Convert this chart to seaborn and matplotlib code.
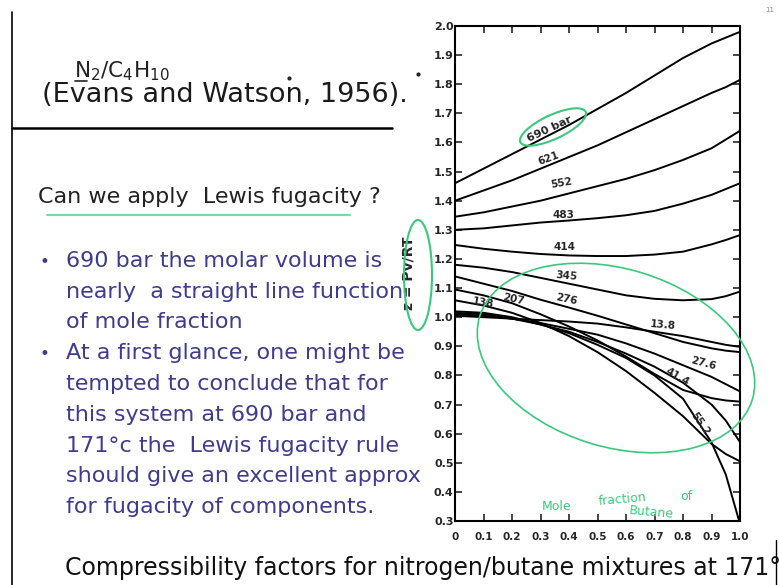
import numpy as np
import pandas as pd
import matplotlib
matplotlib.use("Agg")
import matplotlib.pyplot as plt
from matplotlib.patches import Ellipse
import seaborn as sns

# --- datos (Evans and Watson, 1956) ---
x_butano = [0, 0.1, 0.2, 0.3, 0.4, 0.5, 0.6, 0.7, 0.8, 0.9, 0.95, 1.0]

z_690 = [1.46, 1.51, 1.56, 1.61, 1.66, 1.715, 1.77, 1.83, 1.89, 1.94, 1.96, 1.98]
z_621 = [1.40, 1.435, 1.47, 1.51, 1.55, 1.59, 1.635, 1.68, 1.725, 1.77, 1.79, 1.815]
z_552 = [1.345, 1.36, 1.38, 1.40, 1.425, 1.45, 1.475, 1.505, 1.54, 1.58, 1.61, 1.64]
z_483 = [1.30, 1.305, 1.315, 1.325, 1.332, 1.34, 1.35, 1.365, 1.39, 1.42, 1.44, 1.46]
z_414 = [1.248, 1.235, 1.225, 1.217, 1.212, 1.21, 1.21, 1.215, 1.225, 1.25, 1.265, 1.282]
z_345 = [1.18, 1.17, 1.155, 1.135, 1.115, 1.095, 1.075, 1.063, 1.058, 1.062, 1.072, 1.088]
z_276 = [1.14, 1.115, 1.09, 1.06, 1.033, 1.005, 0.975, 0.945, 0.915, 0.893, 0.885, 0.88]
z_207 = [1.095, 1.075, 1.048, 1.01, 0.968, 0.92, 0.865, 0.805, 0.75, 0.722, 0.714, 0.71]
z_138 = [1.058, 1.04, 1.015, 0.98, 0.935, 0.88, 0.815, 0.74, 0.66, 0.565, 0.53, 0.505]
z_552b = [1.02, 1.015, 1.0, 0.975, 0.945, 0.905, 0.86, 0.80, 0.72, 0.57, 0.46, 0.29]
z_414b = [1.015, 1.01, 0.995, 0.975, 0.95, 0.915, 0.875, 0.83, 0.775, 0.70, 0.645, 0.571]
z_276b = [1.01, 1.005, 0.995, 0.98, 0.96, 0.94, 0.91, 0.875, 0.835, 0.795, 0.77, 0.745]
z_138b = [1.005, 1.0, 0.995, 0.99, 0.985, 0.978, 0.965, 0.95, 0.935, 0.915, 0.905, 0.898]

presiones = ["690", "621", "552", "483", "414", "345", "276", "207", "138",
             "55.2", "41.4", "27.6", "13.8"]
curvas = [z_690, z_621, z_552, z_483, z_414, z_345, z_276, z_207, z_138,
          z_552b, z_414b, z_276b, z_138b]

# etiquetas de las curvas: texto, x, z, rotacion
etiquetas = ["690 bar", "621", "552", "483", "414", "345", "276", "207", "138",
             "13.8", "27.6", "41.4", "55.2"]
etq_x = [0.33, 0.33, 0.375, 0.38, 0.385, 0.39, 0.39, 0.205, 0.10, 0.73, 0.87, 0.78, 0.86]
etq_z = [1.645, 1.545, 1.46, 1.352, 1.24, 1.142, 1.062, 1.062, 1.05, 0.972, 0.842, 0.795, 0.635]
etq_rot = [25, 20, 10, 0, 0, -5, -12, -12, -10, -5, -15, -30, -55]

yticks = [round(0.3 + 0.1 * i, 1) for i in range(18)]
xticks = [round(0.1 * i, 1) for i in range(11)]
xtick_labels = ["0", "0.1", "0.2", "0.3", "0.4", "0.5", "0.6", "0.7", "0.8", "0.9", "1.0"]

bullets = [
    ("\u2022", "690 bar the molar volume is"),
    ("", "nearly  a straight line function"),
    ("", "of mole fraction"),
    ("\u2022", "At a first glance, one might be"),
    ("", "tempted to conclude that for"),
    ("", "this system at 690 bar and"),
    ("", "171\u00b0c the  Lewis fugacity rule"),
    ("", "should give an excellent approx"),
    ("", "for fugacity of components."),
]

# --- tabla larga para seaborn ---
filas = []
for p, zs in zip(presiones, curvas):
    for xv, zv in zip(x_butano, zs):
        filas.append({"x": xv, "z": zv, "p": p})
df = pd.DataFrame(filas)

sns.set_style("white")
plt.rcParams["font.family"] = ["DejaVu Sans"]

W, H = 779, 585
fig = plt.figure(figsize=(W / 100, H / 100), dpi=100)
fig.patch.set_facecolor("white")

# ==============================
# GRAFICO
# ==============================
L, R, T, B = 455, 740, 26, 521
ax = fig.add_axes([L / W, 1 - B / H, (R - L) / W, (B - T) / H])
sns.lineplot(data=df, x="x", y="z", hue="p", palette={p: "black" for p in presiones},
             legend=False, ax=ax, linewidth=1.4, sort=False)
ax.set_xlim(0, 1.0)
ax.set_ylim(0.3, 2.0)
ax.set_yticks(yticks)
ax.set_yticklabels([f"{v:.1f}" for v in yticks], fontsize=8, fontweight="bold")
ax.set_xticks(xticks)
ax.set_xticklabels(xtick_labels, fontsize=7.5, fontweight="bold")
ax.tick_params(axis="both", left=True, right=True, bottom=True, top=True,
               direction="in", length=5, width=1.2)
ax.tick_params(axis="y", pad=1)
ax.tick_params(axis="x", pad=8)
for s in ax.spines.values():
    s.set_linewidth(1.5)
    s.set_color("black")
ax.set_xlabel("")
ax.set_ylabel("z = Pv/RT", fontsize=10, fontweight="bold")
ax.yaxis.set_label_coords(-0.14, 0.5)

for t, xv, zv, r in zip(etiquetas, etq_x, etq_z, etq_rot):
    ax.text(xv, zv, t, fontsize=7.5 if t != "690 bar" else 8, fontweight="bold",
            rotation=r, ha="center", va="center", rotation_mode="anchor")

# ==============================
# TEXTO DE LA DIAPOSITIVA
# ==============================
ov = fig.add_axes([0, 0, 1, 1])
ov.set_xlim(0, W)
ov.set_ylim(0, H)
ov.axis("off")
ov.patch.set_alpha(0)

def py(y):
    return H - y

ov.plot([12, 12], [py(12), py(585)], color="black", lw=1.2)
ov.plot([12, 392], [py(128), py(128)], color="black", lw=1.8)
ov.plot([776, 776], [py(540), py(585)], color="black", lw=1.0)

ov.text(74, py(77), r"N$_2$/C$_4$H$_{10}$", fontsize=15.5, color="#222222", va="baseline")
ov.plot([75, 87], [py(81), py(81)], color="#222222", lw=1.2)
ov.text(42, py(102), "(Evans and Watson, 1956).", fontsize=19.5, color="#1a1a1a",
        va="baseline")
ov.plot([289], [py(78)], marker="o", ms=2, color="#222222")
ov.plot([418], [py(74)], marker="o", ms=2, color="#222222")
ov.text(770, py(12), "11", fontsize=5, color="#888888", ha="center")

ov.text(38, py(203), "Can we apply  Lewis fugacity ?", fontsize=16, color="#222222",
        va="baseline")
ov.plot([47, 350], [py(215), py(215)], color="#7ad9a0", lw=1.5)

for i, (b, linea) in enumerate(bullets):
    yb = 267 + i * 30.75
    if b:
        ov.text(40, py(yb), b, fontsize=12, color="#3f3c8c", va="baseline")
    ov.text(66, py(yb), linea, fontsize=16, color="#3f3c8c", va="baseline")

ov.text(65, py(575), "Compressibility factors for nitrogen/butane mixtures at 171\u00b0C",
        fontsize=17, color="#111111", va="baseline", clip_on=False)

# --- anotaciones verdes a mano ---
verde = "#3cc87c"
ov.add_patch(Ellipse((553, py(127)), 72, 24, angle=25, fill=False, ec=verde, lw=1.5))
ov.add_patch(Ellipse((418, py(275)), 28, 110, angle=0, fill=False, ec=verde, lw=1.5))
ov.add_patch(Ellipse((616, py(358)), 285, 178, angle=-17, fill=False, ec=verde, lw=1.2))
ov.text(542, py(510), "Mole", fontsize=9, color=verde, va="baseline")
ov.text(598, py(505), "fraction", fontsize=9, color=verde, va="baseline", rotation=5)
ov.text(680, py(500), "of", fontsize=9, color=verde, va="baseline")
ov.text(628, py(518), "Butane", fontsize=9, color=verde, va="baseline", rotation=-5)

fig.savefig("out.png", dpi=100)
